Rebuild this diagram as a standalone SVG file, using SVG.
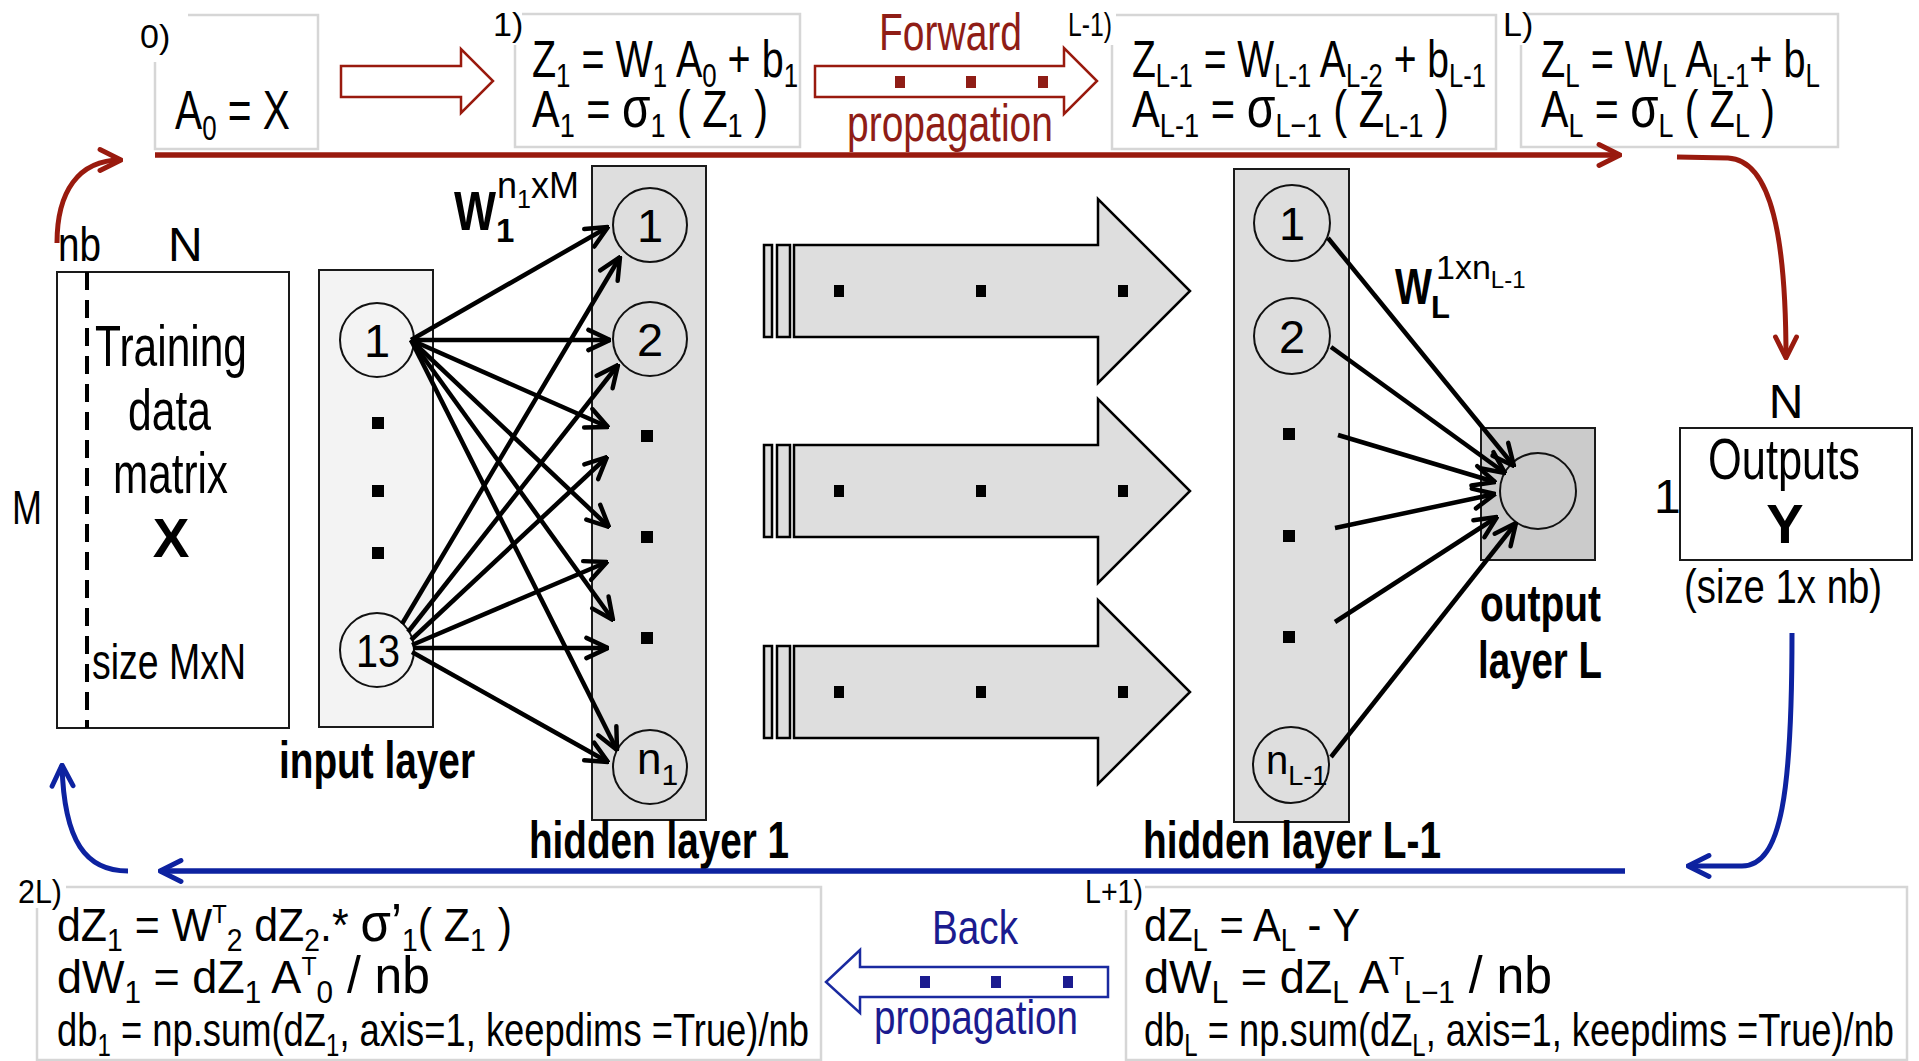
<svg xmlns="http://www.w3.org/2000/svg" width="1919" height="1061" viewBox="0 0 1919 1061">
<defs>
<style>
text{font-family:"Liberation Sans Narrow","Liberation Sans",Arial,sans-serif;fill:#000}
.eq{font-size:52px}
.beq{font-size:47px}
.lbl{font-size:34px}
.bl{font-weight:bold;font-size:52px}
.big{font-size:57px}
.mid{font-size:48px}
.num{font-size:47px}
.red{fill:#8f1d16}
.blu{fill:#1b1b8f}
.ebox{fill:#fff;stroke:#d6d6d6;stroke-width:2.5}
.node{stroke:#1a1a1a;stroke-width:2}
.circ{fill:none;stroke:#111;stroke-width:2}
.con{stroke:#000;stroke-width:4.5;fill:none;marker-end:url(#ah)}
.fat{fill:#dedede;stroke:#000;stroke-width:2.5}
</style>
<marker id="ah" viewBox="0 0 20 20" refX="19" refY="10" markerWidth="27" markerHeight="27" markerUnits="userSpaceOnUse" orient="auto">
<path d="M3,2.5 L19,10 L3,17.5" fill="none" stroke="#000" stroke-width="3.3" stroke-linecap="round" stroke-linejoin="round"/>
</marker>
<marker id="ahr" viewBox="0 0 24 24" refX="22" refY="12" markerWidth="28" markerHeight="28" markerUnits="userSpaceOnUse" orient="auto">
<path d="M4,3 L22,12 L4,21" fill="none" stroke="#991a0e" stroke-width="4.2" stroke-linecap="round" stroke-linejoin="round"/>
</marker>
<marker id="ahb" viewBox="0 0 24 24" refX="22" refY="12" markerWidth="28" markerHeight="28" markerUnits="userSpaceOnUse" orient="auto">
<path d="M4,3 L22,12 L4,21" fill="none" stroke="#0d22a0" stroke-width="4.2" stroke-linecap="round" stroke-linejoin="round"/>
</marker>
</defs>
<rect width="1919" height="1061" fill="#fff"/>

<!-- top equation boxes -->
<g id="step0">
<path class="ebox" d="M188 15 H318 V149 H155 V62"/>
<text class="lbl" x="140" y="48">0)</text>
<text x="175" y="129" font-size="55" textLength="115" lengthAdjust="spacingAndGlyphs">A<tspan font-size="35" dy="11">0</tspan><tspan dy="-11"> = X</tspan></text>
</g>
<g id="fwd-arrow-small">
<polygon points="341,66 461,66 461,49 493,81 461,113 461,97 341,97" fill="#fff" stroke="#991a0e" stroke-width="2.5"/>
</g>
<g id="step1">
<path class="ebox" d="M522 14 H800 V147 H515 V45"/>
<text class="lbl" x="493" y="36">1)</text>
<text class="eq" x="532" y="77" textLength="266" lengthAdjust="spacingAndGlyphs">Z<tspan font-size="34" dy="10">1</tspan><tspan dy="-10"> = W</tspan><tspan font-size="34" dy="10">1</tspan><tspan dy="-10"> A</tspan><tspan font-size="34" dy="10">0</tspan><tspan dy="-10"> + b</tspan><tspan font-size="34" dy="10">1</tspan></text>
<text class="eq" x="532" y="127" textLength="236" lengthAdjust="spacingAndGlyphs">A<tspan font-size="34" dy="10">1</tspan><tspan dy="-10"> = </tspan><tspan font-size="58">σ</tspan><tspan font-size="34" dy="10">1</tspan><tspan dy="-10"> ( Z</tspan><tspan font-size="34" dy="10">1</tspan><tspan dy="-10"> )</tspan></text>
</g>
<g id="forward">
<text class="red" x="879" y="50" font-size="52" textLength="143" lengthAdjust="spacingAndGlyphs">Forward</text>
<polygon points="815,66 1064,66 1064,48 1097,81 1064,114 1064,97 815,97" fill="#fff" stroke="#991a0e" stroke-width="2.5"/>
<rect x="895" y="76" width="10" height="12" fill="#8f1d16"/>
<rect x="966" y="76" width="10" height="12" fill="#8f1d16"/>
<rect x="1038" y="76" width="10" height="12" fill="#8f1d16"/>
<text class="red" x="847" y="141" font-size="52" textLength="206" lengthAdjust="spacingAndGlyphs">propagation</text>
</g>
<g id="stepL-1">
<path class="ebox" d="M1116 15 H1496 V149 H1112 V45"/>
<text class="lbl" x="1068" y="36" textLength="44" lengthAdjust="spacingAndGlyphs">L-1)</text>
<text class="eq" x="1132" y="77" textLength="354" lengthAdjust="spacingAndGlyphs">Z<tspan font-size="34" dy="10">L-1</tspan><tspan dy="-10"> = W</tspan><tspan font-size="34" dy="10">L-1</tspan><tspan dy="-10"> A</tspan><tspan font-size="34" dy="10">L-2</tspan><tspan dy="-10"> + b</tspan><tspan font-size="34" dy="10">L-1</tspan></text>
<text class="eq" x="1132" y="127" textLength="317" lengthAdjust="spacingAndGlyphs">A<tspan font-size="34" dy="10">L-1</tspan><tspan dy="-10"> = </tspan><tspan font-size="58">σ</tspan><tspan font-size="34" dy="10">L−1</tspan><tspan dy="-10"> ( Z</tspan><tspan font-size="34" dy="10">L-1</tspan><tspan dy="-10"> )</tspan></text>
</g>
<g id="stepL">
<path class="ebox" d="M1526 14 H1838 V147 H1521 V45"/>
<text class="lbl" x="1503" y="36">L)</text>
<text class="eq" x="1541" y="77" textLength="279" lengthAdjust="spacingAndGlyphs">Z<tspan font-size="34" dy="10">L</tspan><tspan dy="-10"> = W</tspan><tspan font-size="34" dy="10">L</tspan><tspan dy="-10"> A</tspan><tspan font-size="34" dy="10">L-1</tspan><tspan dy="-10">+ b</tspan><tspan font-size="34" dy="10">L</tspan></text>
<text class="eq" x="1541" y="127" textLength="234" lengthAdjust="spacingAndGlyphs">A<tspan font-size="34" dy="10">L</tspan><tspan dy="-10"> = </tspan><tspan font-size="58">σ</tspan><tspan font-size="34" dy="10">L</tspan><tspan dy="-10"> ( Z</tspan><tspan font-size="34" dy="10">L</tspan><tspan dy="-10"> )</tspan></text>
</g>

<!-- training data -->
<g id="training-data">
<text class="mid" x="58" y="261" textLength="43" lengthAdjust="spacingAndGlyphs">nb</text>
<text class="mid" x="168" y="261">N</text>
<text class="mid" x="12" y="524" textLength="30" lengthAdjust="spacingAndGlyphs">M</text>
<rect x="57" y="272" width="232" height="456" fill="#fff" class="node"/>
<line x1="87" y1="272" x2="87" y2="728" stroke="#000" stroke-width="4" stroke-dasharray="18,10"/>
<text class="big" x="95" y="366" textLength="152" lengthAdjust="spacingAndGlyphs">Training</text>
<text class="big" x="128" y="430" textLength="83" lengthAdjust="spacingAndGlyphs">data</text>
<text class="big" x="113" y="493" textLength="115" lengthAdjust="spacingAndGlyphs">matrix</text>
<text x="171" y="557" font-size="55" text-anchor="middle" font-weight="bold">X</text>
<text x="92" y="679" font-size="50" textLength="154" lengthAdjust="spacingAndGlyphs">size MxN</text>
</g>

<!-- input layer -->
<g id="input-layer">
<rect x="319" y="270" width="114" height="457" fill="#f3f3f3" class="node"/>
<circle cx="377" cy="340" r="37" fill="#f3f3f3" class="circ"/>
<text class="num" x="377" y="357" text-anchor="middle">1</text>
<rect x="372" y="417" width="12" height="12"/>
<rect x="372" y="485" width="12" height="12"/>
<rect x="372" y="547" width="12" height="12"/>
<circle cx="377" cy="650" r="37" fill="#f3f3f3" class="circ"/>
<text class="num" x="378" y="667" text-anchor="middle" textLength="44" lengthAdjust="spacingAndGlyphs">13</text>
<text class="bl" x="279" y="778" textLength="196" lengthAdjust="spacingAndGlyphs">input layer</text>
</g>

<!-- hidden layer 1 -->
<g id="hidden-layer-1">
<rect x="592" y="166" width="114" height="654" fill="#dedede" class="node"/>
<circle cx="650" cy="225" r="37" class="circ"/>
<text class="num" x="650" y="242" text-anchor="middle">1</text>
<circle cx="650" cy="339" r="37" class="circ"/>
<text class="num" x="650" y="356" text-anchor="middle">2</text>
<rect x="641" y="430" width="12" height="12"/>
<rect x="641" y="531" width="12" height="12"/>
<rect x="641" y="632" width="12" height="12"/>
<circle cx="650" cy="767" r="37" class="circ"/>
<text x="637" y="774" font-size="44">n<tspan font-size="30" dy="11">1</tspan></text>
<text class="bl" x="529" y="858" textLength="260" lengthAdjust="spacingAndGlyphs">hidden layer 1</text>
</g>

<g id="W1-label">
<text x="454" y="230" font-size="56" font-weight="bold" textLength="42" lengthAdjust="spacingAndGlyphs">W</text>
<text x="496" y="242" font-size="33" font-weight="bold">1</text>
<text x="497" y="198" font-size="36">n<tspan font-size="25" dy="10">1</tspan><tspan dy="-10">xM</tspan></text>
</g>

<!-- propagation fat arrows -->
<g id="layers-arrow-1">
<rect x="764" y="245" width="8" height="92" class="fat"/>
<rect x="777" y="245" width="13" height="92" class="fat"/>
<polygon class="fat" points="794,245 1098,245 1098,199 1190,291 1098,383 1098,337 794,337"/>
<rect x="834" y="285" width="10" height="12"/><rect x="976" y="285" width="10" height="12"/><rect x="1118" y="285" width="10" height="12"/>
</g>
<g id="layers-arrow-2">
<rect x="764" y="445" width="8" height="92" class="fat"/>
<rect x="777" y="445" width="13" height="92" class="fat"/>
<polygon class="fat" points="794,445 1098,445 1098,399 1190,491 1098,583 1098,537 794,537"/>
<rect x="834" y="485" width="10" height="12"/><rect x="976" y="485" width="10" height="12"/><rect x="1118" y="485" width="10" height="12"/>
</g>
<g id="layers-arrow-3">
<rect x="764" y="646" width="8" height="92" class="fat"/>
<rect x="777" y="646" width="13" height="92" class="fat"/>
<polygon class="fat" points="794,646 1098,646 1098,600 1190,692 1098,784 1098,738 794,738"/>
<rect x="834" y="686" width="10" height="12"/><rect x="976" y="686" width="10" height="12"/><rect x="1118" y="686" width="10" height="12"/>
</g>

<!-- hidden layer L-1 -->
<g id="hidden-layer-L-1">
<rect x="1234" y="169" width="115" height="653" fill="#dedede" class="node"/>
<circle cx="1292" cy="223" r="38" class="circ"/>
<text class="num" x="1292" y="240" text-anchor="middle">1</text>
<circle cx="1292" cy="336" r="38" class="circ"/>
<text class="num" x="1292" y="353" text-anchor="middle">2</text>
<rect x="1283" y="428" width="12" height="12"/>
<rect x="1283" y="530" width="12" height="12"/>
<rect x="1283" y="631" width="12" height="12"/>
<circle cx="1291" cy="765" r="38" class="circ"/>
<text x="1266" y="774" font-size="40">n<tspan font-size="27" dy="11">L-1</tspan></text>
<text class="bl" x="1143" y="858" textLength="298" lengthAdjust="spacingAndGlyphs">hidden layer L-1</text>
</g>

<g id="WL-label">
<text x="1395" y="304" font-size="50" font-weight="bold" textLength="37" lengthAdjust="spacingAndGlyphs">W</text>
<text x="1431" y="318" font-size="31" font-weight="bold">L</text>
<text x="1436" y="279" font-size="34">1xn<tspan font-size="24" dy="9">L-1</tspan></text>
</g>

<!-- output layer -->
<g id="output-layer">
<rect x="1481" y="428" width="114" height="132" fill="#cbcbcb" class="node"/>
<circle cx="1538" cy="491" r="38" fill="#d4d4d4" class="circ"/>
<text class="bl" x="1480" y="621" textLength="121" lengthAdjust="spacingAndGlyphs">output</text>
<text class="bl" x="1478" y="678" textLength="124" lengthAdjust="spacingAndGlyphs">layer L</text>
</g>

<!-- outputs Y -->
<g id="outputs">
<text class="mid" x="1786" y="418" text-anchor="middle">N</text>
<text class="mid" x="1654" y="513">1</text>
<rect x="1680" y="428" width="232" height="132" fill="#fff" class="node"/>
<text x="1708" y="479" font-size="58" textLength="152" lengthAdjust="spacingAndGlyphs">Outputs</text>
<text x="1785" y="543" font-size="56" font-weight="bold" text-anchor="middle">Y</text>
<text x="1684" y="603" font-size="48" textLength="198" lengthAdjust="spacingAndGlyphs">(size 1x nb)</text>
</g>

<!-- bottom boxes -->
<g id="step2L">
<path class="ebox" d="M66 887 H821 V1060 H37 V908"/>
<text class="lbl" x="18" y="903" textLength="44" lengthAdjust="spacingAndGlyphs">2L)</text>
<text class="beq" x="57" y="941" textLength="455" lengthAdjust="spacingAndGlyphs">dZ<tspan font-size="31" dy="10">1</tspan><tspan dy="-10">  = W</tspan><tspan font-size="26" dy="-18">T</tspan><tspan font-size="31" dy="28">2</tspan><tspan dy="-10"> dZ</tspan><tspan font-size="31" dy="10">2</tspan><tspan dy="-10">.* </tspan><tspan font-size="54">σ’</tspan><tspan font-size="31" dy="10">1</tspan><tspan dy="-10">( Z</tspan><tspan font-size="31" dy="10">1</tspan><tspan dy="-10"> )</tspan></text>
<text class="beq" x="57" y="993" textLength="373" lengthAdjust="spacingAndGlyphs">dW<tspan font-size="31" dy="10">1</tspan><tspan dy="-10"> = dZ</tspan><tspan font-size="31" dy="10">1</tspan><tspan dy="-10"> A</tspan><tspan font-size="26" dy="-18">T</tspan><tspan font-size="31" dy="28">0</tspan><tspan dy="-10" font-size="52"> / nb</tspan></text>
<text class="beq" x="57" y="1046" textLength="752" lengthAdjust="spacingAndGlyphs">db<tspan font-size="31" dy="10">1</tspan><tspan dy="-10">  = np.sum(dZ</tspan><tspan font-size="31" dy="10">1</tspan><tspan dy="-10">, axis=1, keepdims =True)/nb</tspan></text>
</g>
<g id="back">
<text class="blu" x="932" y="944" font-size="48" textLength="86" lengthAdjust="spacingAndGlyphs">Back</text>
<polygon points="1108,967 860,967 860,950 826,982 860,1013 860,997 1108,997" fill="#fff" stroke="#1a2aa0" stroke-width="2.5"/>
<rect x="920" y="976" width="10" height="12" fill="#1b1b8f"/>
<rect x="991" y="976" width="10" height="12" fill="#1b1b8f"/>
<rect x="1063" y="976" width="10" height="12" fill="#1b1b8f"/>
<text class="blu" x="874" y="1034" font-size="48" textLength="204" lengthAdjust="spacingAndGlyphs">propagation</text>
</g>
<g id="stepL+1">
<path class="ebox" d="M1145 887 H1907 V1060 H1126 V910"/>
<text class="lbl" x="1085" y="903" textLength="58" lengthAdjust="spacingAndGlyphs">L+1)</text>
<text class="beq" x="1144" y="941" textLength="216" lengthAdjust="spacingAndGlyphs">dZ<tspan font-size="31" dy="10">L</tspan><tspan dy="-10">  = A</tspan><tspan font-size="31" dy="10">L</tspan><tspan dy="-10"> - Y</tspan></text>
<text class="beq" x="1144" y="993" textLength="408" lengthAdjust="spacingAndGlyphs">dW<tspan font-size="31" dy="10">L</tspan><tspan dy="-10"> = dZ</tspan><tspan font-size="31" dy="10">L</tspan><tspan dy="-10"> A</tspan><tspan font-size="26" dy="-18">T</tspan><tspan font-size="31" dy="28">L−1</tspan><tspan dy="-10" font-size="52"> / nb</tspan></text>
<text class="beq" x="1144" y="1046" textLength="750" lengthAdjust="spacingAndGlyphs">db<tspan font-size="31" dy="10">L</tspan><tspan dy="-10">  = np.sum(dZ</tspan><tspan font-size="31" dy="10">L</tspan><tspan dy="-10">, axis=1, keepdims =True)/nb</tspan></text>
</g>

<!-- connectors -->
<g id="connectors">
<path d="M155 155 H1620" stroke="#991a0e" stroke-width="5.5" fill="none" marker-end="url(#ahr)"/>
<path d="M57 243 C57 192 78 160 121 160" stroke="#991a0e" stroke-width="5" fill="none" marker-end="url(#ahr)"/>
<path d="M1677 157 L1728 158 C1772 160 1786 240 1786 358" stroke="#991a0e" stroke-width="5" fill="none" marker-end="url(#ahr)"/>
<path d="M1625 871 H160" stroke="#0d22a0" stroke-width="5.5" fill="none" marker-end="url(#ahb)"/>
<path d="M1792 633 C1792 790 1782 866 1742 866 L1688 866" stroke="#0d22a0" stroke-width="5" fill="none" marker-end="url(#ahb)"/>
<path d="M128 871 C86 871 64 842 62 765" stroke="#0d22a0" stroke-width="5" fill="none" marker-end="url(#ahb)"/>

<line class="con" x1="411" y1="340" x2="608" y2="227"/>
<line class="con" x1="411" y1="340" x2="610" y2="340"/>
<line class="con" x1="411" y1="340" x2="608" y2="427"/>
<line class="con" x1="411" y1="340" x2="609" y2="527"/>
<line class="con" x1="411" y1="340" x2="613" y2="620"/>
<line class="con" x1="411" y1="340" x2="617" y2="750"/>

<line class="con" x1="402" y1="624" x2="620" y2="257"/>
<line class="con" x1="408" y1="632" x2="618" y2="365"/>
<line class="con" x1="411" y1="640" x2="607" y2="457"/>
<line class="con" x1="412" y1="645" x2="607" y2="562"/>
<line class="con" x1="413" y1="648" x2="608" y2="648"/>
<line class="con" x1="412" y1="652" x2="608" y2="762"/>

<line class="con" x1="1328" y1="238" x2="1514" y2="466"/>
<line class="con" x1="1331" y1="347" x2="1505" y2="473"/>
<line class="con" x1="1338" y1="435" x2="1495" y2="482"/>
<line class="con" x1="1335" y1="528" x2="1495" y2="494"/>
<line class="con" x1="1335" y1="622" x2="1497" y2="517"/>
<line class="con" x1="1331" y1="757" x2="1516" y2="523"/>
</g>
</svg>
